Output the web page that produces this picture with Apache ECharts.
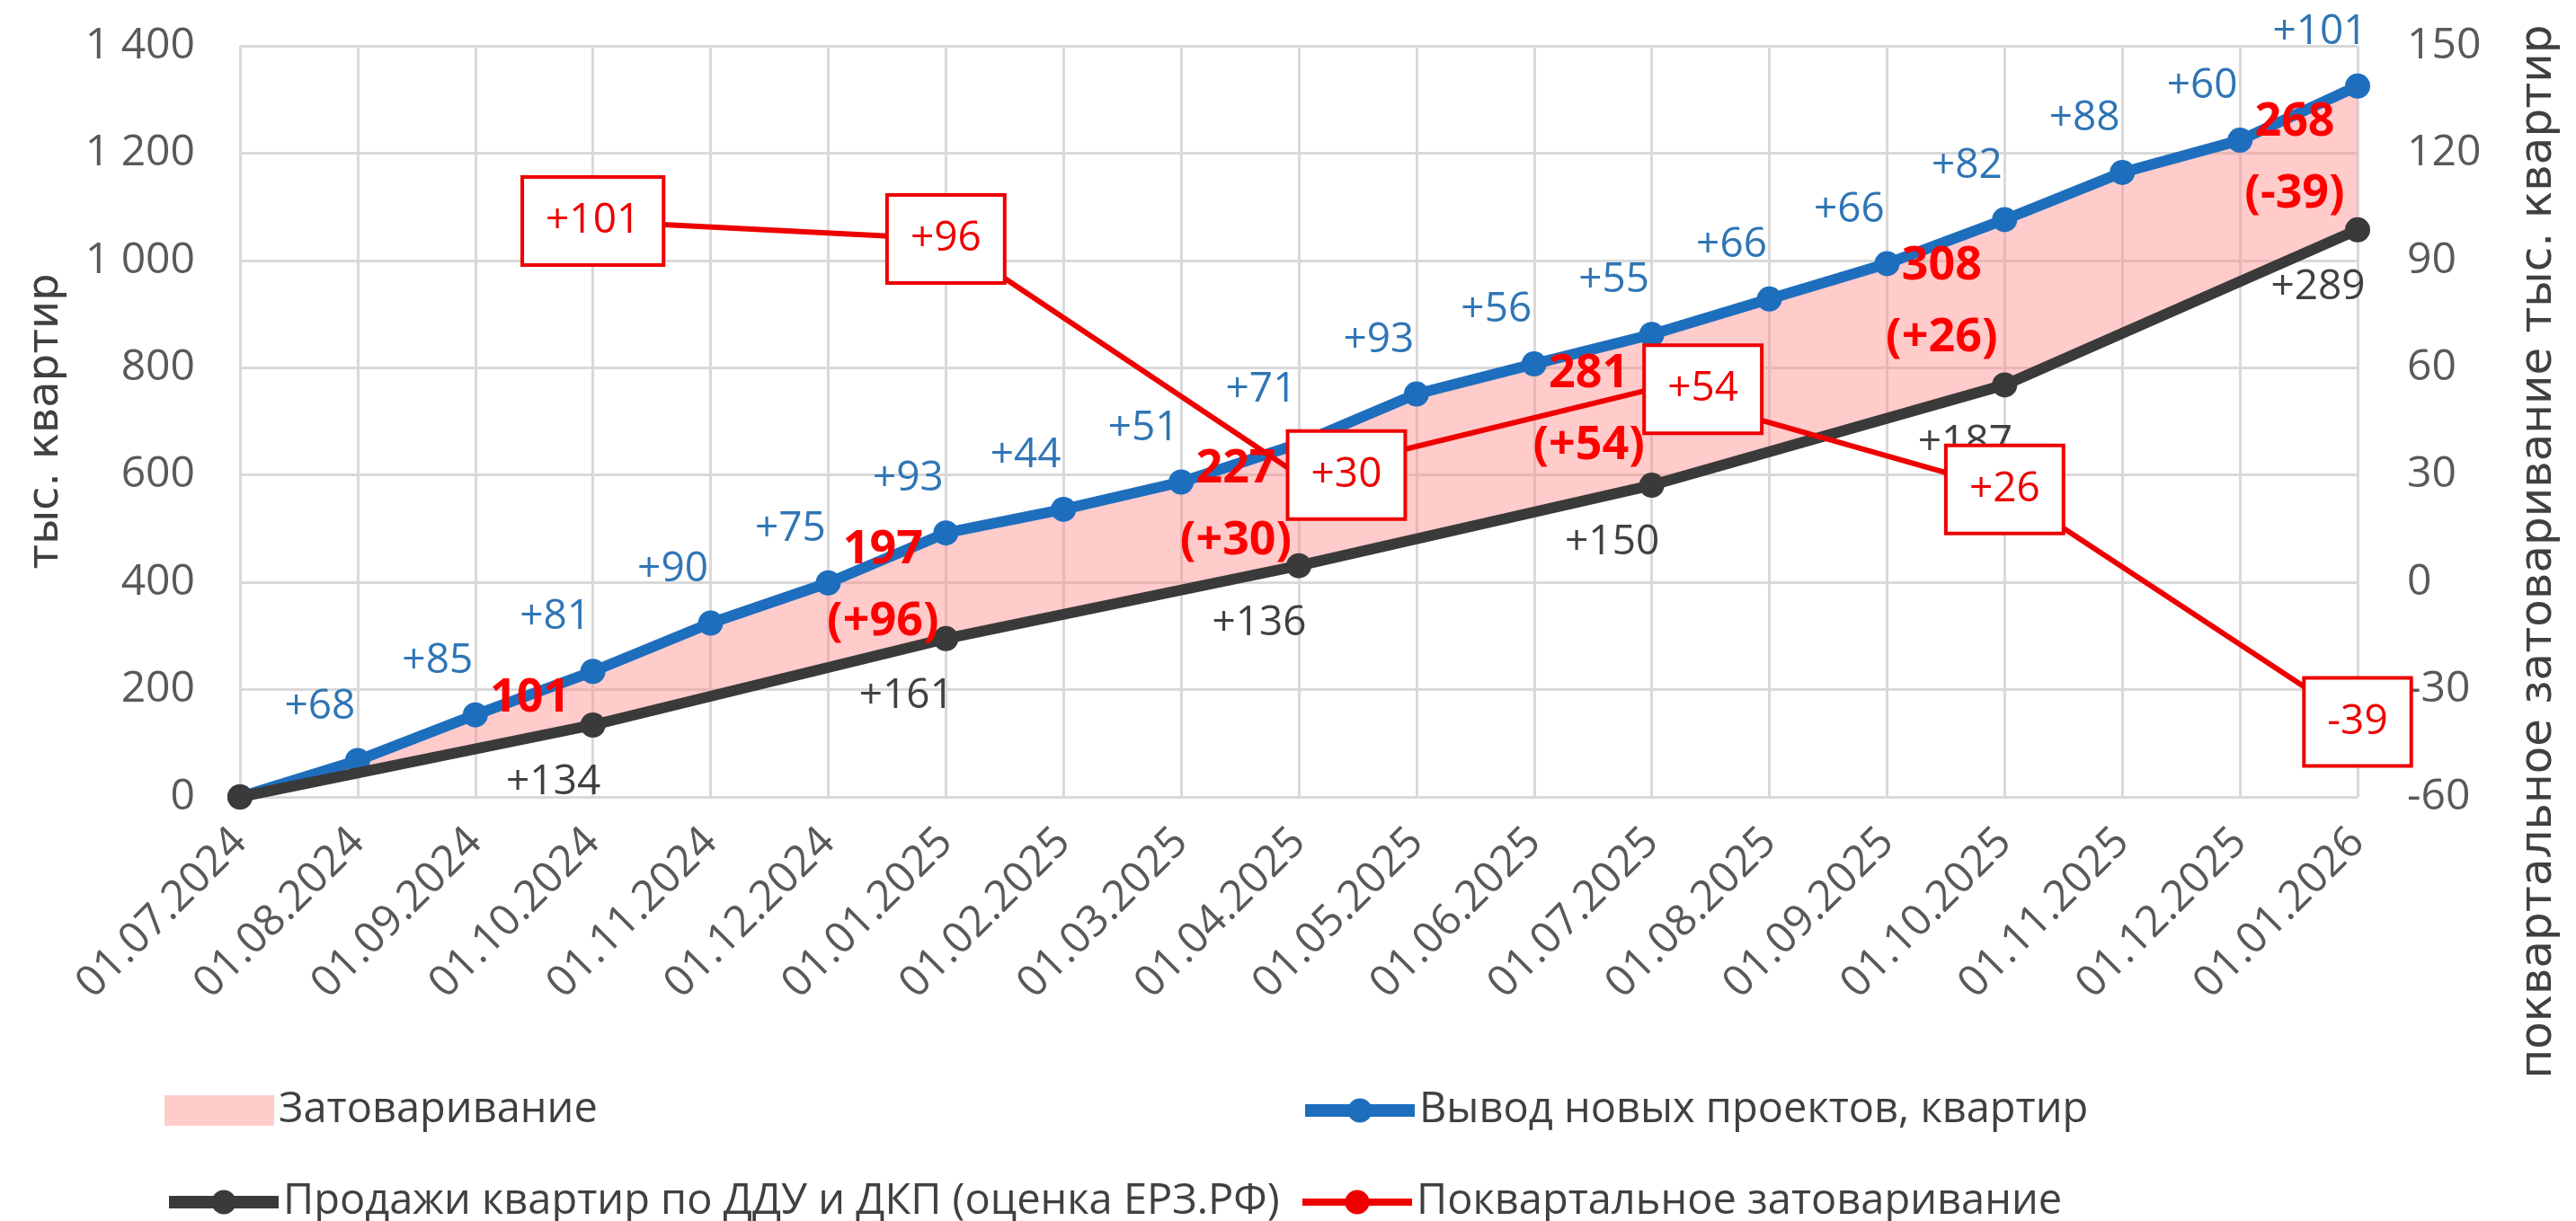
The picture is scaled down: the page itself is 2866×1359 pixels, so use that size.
<!DOCTYPE html>
<html>
<head>
<meta charset="utf-8">
<script src="https://cdn.jsdelivr.net/npm/echarts/dist/echarts.min.js"></script>
<style>
  html, body { margin: 0; padding: 0; background: #fff; }
  #chart { width: 2866px; height: 1359px; }
</style>
</head>
<body>
<div id="chart"></div>
<script>
// months on the x axis
var dates = ['01.07.2024', '01.08.2024', '01.09.2024', '01.10.2024', '01.11.2024', '01.12.2024',
    '01.01.2025', '01.02.2025', '01.03.2025', '01.04.2025', '01.05.2025', '01.06.2025',
    '01.07.2025', '01.08.2025', '01.09.2025', '01.10.2025', '01.11.2025', '01.12.2025', '01.01.2026'];

// cumulative new projects, thousand flats
var newProjects = [0, 68, 153, 234, 324, 399, 492, 536, 587, 658, 751, 807, 862, 928, 994, 1076, 1164, 1224, 1325];
var newProjectsLabels = ['', '+68', '+85', '+81', '+90', '+75', '+93', '+44', '+51', '+71', '+93', '+56', '+55',
    '+66', '+66', '+82', '+88', '+60', '+101'];

// cumulative sales (quarterly points only)
var sales = [0, null, null, 134, null, null, 295, null, null, 431, null, null, 581, null, null, 768, null, null, 1057];
var salesLabels = ['', '', '', '+134', '', '', '+161', '', '', '+136', '', '', '+150', '', '', '+187', '', '', '+289'];

// quarterly overstock (right axis) and accumulated overstock
var quarterlyOverstock = [null, null, null, 101, null, null, 96, null, null, 30, null, null, 54, null, null, 26, null, null, -39];
var overstockTotal = [null, null, null, 101, null, null, 197, null, null, 227, null, null, 281, null, null, 308, null, null, 268];

var leftTicks = [0, 1400, 200];
var rightTicks = [-60, 150, 30];

var FONT = "'Open Sans', sans-serif";
var TITLE_FONT = "'DejaVu Sans', sans-serif";
var BLUE = '#1E6EBE';
var DARK = '#3A3A3A';
var RED = '#EE0000';
var PINK = 'rgba(255, 130, 130, 0.42)';
var GRID = '#D9D9D9';

var NAME_AREA = 'Затоваривание';
var NAME_NEW = 'Вывод новых проектов, квартир';
var NAME_SALES = 'Продажи квартир по ДДУ и ДКП (оценка ЕРЗ.РФ)';
var NAME_Q = 'Поквартальное затоваривание';

function signed(v) {
    return (v > 0 ? '+' : '') + v;
}

// a couple of boxes sit to the right of their point
var boxShift = { 9: 53, 12: 57 };
var redData = quarterlyOverstock.map(function (v, i) {
    if (boxShift[i]) {
        return { value: v, label: { offset: [boxShift[i], 0] } };
    }
    return v;
});

var firstQuarter = overstockTotal.findIndex(function (v) { return v != null; });

// one legend block per entry, laid out as two columns
function legendItem(item, left, top) {
    return {
        orient: 'horizontal', left: left, top: top,
        itemWidth: 122, itemHeight: 34,
        textStyle: { fontFamily: FONT, fontSize: 47, color: '#404040', lineHeight: 56 },
        data: [item]
    };
}

var chart = echarts.init(document.getElementById('chart'));

var option = {
    backgroundColor: '#fff',
    animation: false,
    grid: { left: 267, right: 243, top: 51, bottom: 472, containLabel: false, outerBoundsMode: 'none' },
    legend: [
        legendItem({ name: NAME_AREA, icon: 'rect' }, 178, 1203),
        legendItem({ name: NAME_SALES, lineStyle: { width: 14 } }, 176, 1305),
        legendItem({ name: NAME_NEW, lineStyle: { width: 14 } }, 1440, 1203),
        legendItem({ name: NAME_Q, lineStyle: { width: 8 } }, 1440, 1305)
    ],
    xAxis: {
        type: 'category',
        data: dates,
        boundaryGap: false,
        axisLine: { show: false },
        axisTick: { show: false },
        splitLine: { show: true, lineStyle: { color: GRID, width: 3 } },
        axisLabel: {
            interval: 0, rotate: 45, margin: 43, padding: [62, 0, 0, 0],
            fontFamily: FONT, fontSize: 48, color: '#595959'
        }
    },
    yAxis: [
        {
            type: 'value',
            min: leftTicks[0], max: leftTicks[1], interval: leftTicks[2],
            axisLine: { show: false },
            axisTick: { show: false },
            splitLine: { show: true, lineStyle: { color: GRID, width: 3 } },
            axisLabel: {
                margin: 50, fontFamily: FONT, fontSize: 48, color: '#595959',
                formatter: function (v) { return String(v).replace(/\B(?=(\d{3})+(?!\d))/g, ' '); }
            },
            name: 'тыс. квартир',
            nameLocation: 'middle', nameRotate: 90, nameGap: 191, nameMoveOverlap: false,
            nameTextStyle: { fontFamily: TITLE_FONT, fontSize: 48, color: '#404040' }
        },
        {
            type: 'value',
            position: 'right',
            min: rightTicks[0], max: rightTicks[1], interval: rightTicks[2],
            axisLine: { show: false },
            axisTick: { show: false },
            splitLine: { show: false },
            axisLabel: { margin: 55, fontFamily: FONT, fontSize: 48, color: '#595959' },
            name: 'поквартальное затоваривание тыс. квартир',
            nameLocation: 'middle', nameRotate: 90, nameGap: 177, nameMoveOverlap: false,
            nameTextStyle: { fontFamily: TITLE_FONT, fontSize: 50, color: '#404040', padding: [0, 290, 0, 0] }
        }
    ],
    series: [
        {
            // band between new projects and sales
            name: NAME_AREA,
            type: 'custom',
            z: 1,
            silent: true,
            itemStyle: { color: PINK },
            data: [[0, 0]],
            renderItem: function (params, api) {
                var pts = [];
                for (var i = 0; i < newProjects.length; i++) {
                    pts.push(api.coord([i, newProjects[i]]));
                }
                for (var j = sales.length - 1; j >= 0; j--) {
                    if (sales[j] != null) pts.push(api.coord([j, sales[j]]));
                }
                return { type: 'polygon', shape: { points: pts }, style: { fill: PINK } };
            }
        },
        {
            name: NAME_NEW,
            type: 'line',
            z: 3,
            data: newProjects,
            symbol: 'circle',
            symbolSize: 28,
            lineStyle: { color: BLUE, width: 12 },
            itemStyle: { color: BLUE },
            label: {
                show: true, position: 'top', offset: [-42, -18],
                fontFamily: FONT, fontSize: 46, color: '#2F75B5',
                formatter: function (p) { return newProjectsLabels[p.dataIndex]; }
            }
        },
        {
            name: NAME_SALES,
            type: 'line',
            z: 4,
            data: sales,
            connectNulls: true,
            symbol: 'circle',
            symbolSize: 28,
            lineStyle: { color: DARK, width: 12 },
            itemStyle: { color: DARK },
            label: {
                show: true, position: 'bottom', offset: [-44, 22],
                fontFamily: FONT, fontSize: 46, color: '#404040',
                formatter: function (p) { return salesLabels[p.dataIndex]; }
            }
        },
        {
            name: NAME_Q,
            type: 'line',
            yAxisIndex: 1,
            z: 6,
            data: redData,
            connectNulls: true,
            symbol: 'circle',
            symbolSize: 12,
            lineStyle: { color: RED, width: 6 },
            itemStyle: { color: RED },
            label: {
                show: true, position: 'inside',
                fontFamily: FONT, fontSize: 46, color: RED,
                backgroundColor: '#fff', borderColor: RED, borderWidth: 4,
                padding: [24, 24],
                formatter: function (p) { return signed(p.value); }
            }
        },
        {
            // accumulated overstock labels inside the band
            name: 'labels',
            type: 'custom',
            z: 5,
            silent: true,
            data: dates.map(function (d, i) { return [i, 0]; }),
            renderItem: function (params, api) {
                var i = api.value(0);
                if (overstockTotal[i] == null) return null;
                var a = api.coord([i, newProjects[i]]);
                var b = api.coord([i, sales[i]]);
                var text = String(overstockTotal[i]);
                if (i !== firstQuarter) text += '\n(' + signed(quarterlyOverstock[i]) + ')';
                return {
                    type: 'text',
                    x: (a[0] + b[0]) / 2 - 70,
                    y: (a[1] + b[1]) / 2,
                    style: {
                        text: text, fill: '#FF0000',
                        fontFamily: FONT, fontSize: 52, fontWeight: 'bold',
                        align: 'center', verticalAlign: 'middle', lineHeight: 80
                    }
                };
            }
        }
    ]
};

chart.setOption(option);
</script>
</body>
</html>
